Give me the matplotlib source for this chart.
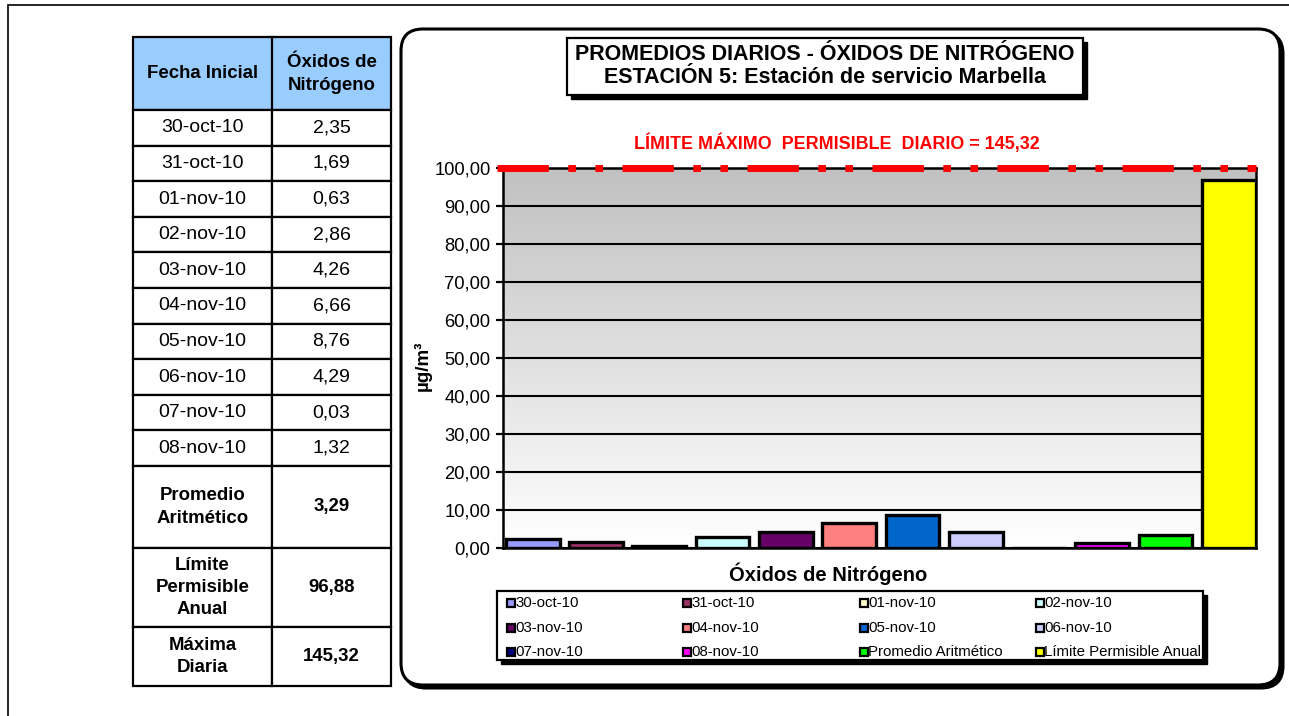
import numpy as np
import matplotlib
matplotlib.use("Agg")
import matplotlib.pyplot as plt
from matplotlib.patches import Rectangle, FancyBboxPatch
from matplotlib.ticker import FuncFormatter

plt.rcParams['font.family'] = ['Liberation Sans', 'DejaVu Sans']
plt.rcParams['lines.scale_dashes'] = False

# ---------------- data ----------------
fechas = ["30-oct-10", "31-oct-10", "01-nov-10", "02-nov-10", "03-nov-10",
          "04-nov-10", "05-nov-10", "06-nov-10", "07-nov-10", "08-nov-10"]
valores = [2.35, 1.69, 0.63, 2.86, 4.26, 6.66, 8.76, 4.29, 0.03, 1.32]
promedio = 3.29
limite_anual = 96.88
maxima_diaria = 145.32

serie_labels = fechas + ["Promedio Aritmético", "Límite Permisible Anual"]
serie_values = valores + [promedio, limite_anual]
serie_colors = ["#9999FF", "#993366", "#FFFFCC", "#CCFFFF", "#660066", "#FF8080",
                "#0066CC", "#CCCCFF", "#000080", "#FF00FF", "#00FF00", "#FFFF00"]

y_ticks = [0, 10, 20, 30, 40, 50, 60, 70, 80, 90, 100]
y_max = 100


def fmt(v):
    return f"{v:.2f}".replace(".", ",")


# ---------------- figure ----------------
W, H = 1289, 716
fig = plt.figure(figsize=(W / 100, H / 100), dpi=100)
bg = fig.add_axes([0, 0, 1, 1], zorder=0)
bg.set_xlim(0, W)
bg.set_ylim(H, 0)
bg.axis("off")

# outer frame
bg.plot([8, 8, W + 5], [H + 5, 5, 5], color="black", lw=1.2, solid_joinstyle="miter")

# ---------------- table ----------------
tx0, tx1, tx2 = 133, 272, 391
lw_t = 1.6
bg.add_patch(Rectangle((tx0, 37), tx2 - tx0, 110 - 37, fc="#99CCFF", ec="black", lw=lw_t))
bg.plot([tx1, tx1], [37, 110], color="black", lw=lw_t)
bg.text((tx0 + tx1) / 2, 74, "Fecha Inicial", ha="center", va="center",
        fontsize=13.4, fontweight="bold")
bg.text((tx1 + tx2) / 2, 74, "Óxidos de\nNitrógeno", ha="center", va="center",
        fontsize=13.4, fontweight="bold", linespacing=1.45)

row_h = (466 - 110) / len(fechas)
for i, (f, v) in enumerate(zip(fechas, valores)):
    y0 = 110 + i * row_h
    bg.add_patch(Rectangle((tx0, y0), tx1 - tx0, row_h, fc="white", ec="black", lw=lw_t))
    bg.add_patch(Rectangle((tx1, y0), tx2 - tx1, row_h, fc="white", ec="black", lw=lw_t))
    bg.text((tx0 + tx1) / 2, y0 + row_h / 2, f, ha="center", va="center", fontsize=14)
    bg.text((tx1 + tx2) / 2, y0 + row_h / 2, fmt(v), ha="center", va="center", fontsize=14)

extra_rows = [("Promedio\nAritmético", promedio, 466, 548),
              ("Límite\nPermisible\nAnual", limite_anual, 548, 627),
              ("Máxima\nDiaria", maxima_diaria, 627, 686)]
for lab, v, y0, y1 in extra_rows:
    bg.add_patch(Rectangle((tx0, y0), tx1 - tx0, y1 - y0, fc="white", ec="black", lw=lw_t))
    bg.add_patch(Rectangle((tx1, y0), tx2 - tx1, y1 - y0, fc="white", ec="black", lw=lw_t))
    bg.text((tx0 + tx1) / 2, (y0 + y1) / 2, lab, ha="center", va="center",
            fontsize=13.4, fontweight="bold", linespacing=1.4)
    bg.text((tx1 + tx2) / 2, (y0 + y1) / 2, fmt(v), ha="center", va="center",
            fontsize=13.4, fontweight="bold")

# ---------------- chart panel ----------------
px0, py0, pw, ph = 401, 29, 879, 656
bg.add_patch(FancyBboxPatch((px0 + 3, py0 + 3), pw, ph,
                            boxstyle="round,pad=0,rounding_size=22",
                            fc="black", ec="black", lw=2.2))
bg.add_patch(FancyBboxPatch((px0, py0), pw, ph,
                            boxstyle="round,pad=0,rounding_size=22",
                            fc="white", ec="black", lw=2.2))

# title box
bg.add_patch(Rectangle((571, 42), 516, 57, fc="black", ec="black", lw=1))
bg.add_patch(Rectangle((567, 38), 516, 57, fc="white", ec="black", lw=1.6))
bg.text(825, 66, "PROMEDIOS DIARIOS - ÓXIDOS DE NITRÓGENO\nESTACIÓN 5: Estación de servicio Marbella",
        ha="center", va="center", fontsize=15.5, fontweight="bold", linespacing=1.15)

bg.text(837, 143, f"LÍMITE MÁXIMO  PERMISIBLE  DIARIO = {fmt(maxima_diaria)}",
        ha="center", va="center", fontsize=12.9, fontweight="bold", color="#FF0000")

# ---------------- bar axes ----------------
ax = fig.add_axes([503 / W, 1 - 548 / H, (1256 - 503) / W, (548 - 168) / H], zorder=2)
grad = np.linspace(0.755, 1.0, 256).reshape(-1, 1)
grad_rgb = np.dstack([grad, grad, grad])
ax.imshow(grad_rgb, extent=(0, 1, 0, 1), transform=ax.transAxes,
          aspect="auto", zorder=0, interpolation="bilinear")

x = np.arange(len(serie_values))
ax.bar(x, serie_values, width=0.85, color=serie_colors, edgecolor="black",
       linewidth=2.4, zorder=3)

ax.set_xlim(-0.47, 11.43)
ax.set_ylim(0, y_max)
ax.set_yticks(y_ticks)
ax.yaxis.set_major_formatter(FuncFormatter(lambda v, p: fmt(v)))
ax.grid(axis="y", color="black", lw=1.5, zorder=1)
ax.set_axisbelow(True)
ax.set_xticks([])
ax.tick_params(axis="y", direction="out", length=5, width=1.6, labelsize=13.2, pad=4)
for s in ax.spines.values():
    s.set_linewidth(1.8)
    s.set_color("black")

# daily permissible limit (clipped at the top of the scale)
ax.axhline(y_max, xmin=-0.008, xmax=1.0, color="#FF0000", lw=5,
           linestyle=(0, (37, 14, 5.5, 14, 5.5, 14)), clip_on=False,
           zorder=5, dash_capstyle="butt")

ax.set_ylabel("µg/m³", fontsize=13.5, fontweight="bold")
ax.yaxis.set_label_coords(-0.094, 0.48)

bg.text(828, 574, "Óxidos de Nitrógeno", ha="center", va="center",
        fontsize=14.5, fontweight="bold")

# ---------------- legend ----------------
lx0, ly0, lw_, lh_ = 497, 591, 706, 69
bg.add_patch(Rectangle((lx0 + 4, ly0 + 4), lw_, lh_, fc="black", ec="black", lw=1))
bg.add_patch(Rectangle((lx0, ly0), lw_, lh_, fc="white", ec="black", lw=1.6))
col_x = [507, 683, 860, 1036]
row_y = [603, 628, 652]
for i, (lab, col) in enumerate(zip(serie_labels, serie_colors)):
    r, c = divmod(i, 4)
    mx, my = col_x[c], row_y[r]
    bg.add_patch(Rectangle((mx, my - 4), 8, 8, fc=col, ec="black", lw=1.6, zorder=3))
    bg.text(mx + 8.5, my, lab, ha="left", va="center", fontsize=10.8)

fig.savefig("out.png", dpi=100)
